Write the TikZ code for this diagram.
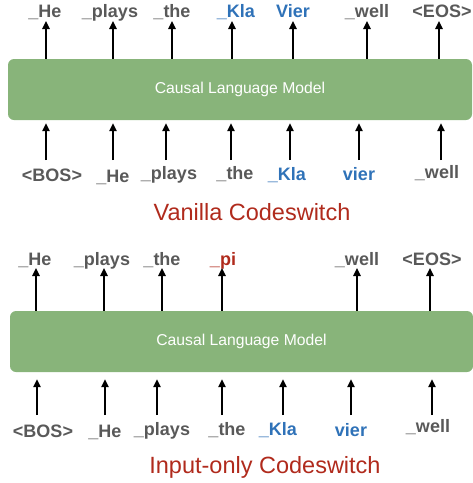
\documentclass[tikz,border=0pt]{standalone}
\usepackage{fontspec}
\setmainfont{Liberation Sans}
\usetikzlibrary{arrows.meta,positioning,calc}

\definecolor{tokgray}{HTML}{595959}
\definecolor{tokblue}{HTML}{2F72B8}
\definecolor{tokred}{HTML}{B02A1C}
\definecolor{lmgreen}{HTML}{88B47A}

\begin{document}
\begin{tikzpicture}[x=1pt, y=-1pt,
  tok/.style={font=\fontsize{18}{18}\selectfont\bfseries, text=tokgray, inner sep=0pt, anchor=base},
  lm/.style={fill=lmgreen, rounded corners=6pt, text=white, font=\fontsize{15.7}{15.7}\selectfont, minimum height=61pt},
  caption/.style={font=\fontsize{23.5}{23.5}\selectfont, text=tokred, inner sep=0pt, anchor=base},
  arr/.style={line width=1.5pt, -{Triangle[length=8pt,width=7.5pt]}}]
  \useasboundingbox (0,0) rectangle (473,483);

  % vanilla codeswitch
  \node[lm, minimum width=464pt] (vlm) at (240,89.5) {Causal Language Model};
  \foreach \n/\ax/\lx/\txt/\col in {1/46/45/\_He/tokgray, 2/113/110/\_plays/tokgray,
      3/172/172/\_the/tokgray, 4/232/236/\_Kla/tokblue, 5/293/293/Vier/tokblue,
      6/367/367/\_well/tokgray, 7/439/442/<EOS>/tokgray}{
    \node[tok, text=\col] (vo\n) at (\lx,17) {\txt};
    \coordinate (vox\n) at (\ax,17);
    \draw[arr, shorten >=4pt] (vox\n |- vlm.north) -- (vox\n |- vo\n.base);
  }
  \foreach \n/\ax/\lx/\ly/\txt/\col in {1/46/52/181/<BOS>/tokgray, 2/113/113/182/\_He/tokgray,
      3/166/169/179/\_plays/tokgray, 4/231/235/179/\_the/tokgray, 5/290/287/180/\_Kla/tokblue,
      6/359/359/180/vier/tokblue, 7/441/437/178/\_well/tokgray}{
    \node[tok, text=\col] (vi\n) at (\lx,\ly) {\txt};
    \coordinate (vix\n) at (\ax,160);
    \draw[arr, shorten >=3pt] (vix\n) -- (vix\n |- vlm.south);
  }
  \node[caption] (vcap) at (252,220) {Vanilla Codeswitch};

  % input-only codeswitch
  \node[lm, minimum width=463pt] (iolm) at (241.5,341.5) {Causal Language Model};
  \foreach \n/\ax/\lx/\txt/\col in {1/36/35/\_He/tokgray, 2/104/102/\_plays/tokgray,
      3/162/162/\_the/tokgray, 4/222/223/\_pi/tokred,
      5/357/357/\_well/tokgray, 6/430/432/<EOS>/tokgray}{
    \node[tok, text=\col] (ioo\n) at (\lx,265) {\txt};
    \coordinate (iox\n) at (\ax,265);
    \draw[arr, shorten >=3pt] (iox\n |- iolm.north) -- (iox\n |- ioo\n.base);
  }
  \foreach \n/\ax/\lx/\ly/\txt/\col in {1/37/43/437/<BOS>/tokgray, 2/105/105/437/\_He/tokgray,
      3/157/162/435/\_plays/tokgray, 4/222/227/435/\_the/tokgray, 5/283/278/435/\_Kla/tokblue,
      6/351/351/436/vier/tokblue, 7/432/428/432/\_well/tokgray}{
    \node[tok, text=\col] (ioi\n) at (\lx,\ly) {\txt};
    \coordinate (ioix\n) at (\ax,415);
    \draw[arr, shorten >=7pt] (ioix\n) -- (ioix\n |- iolm.south);
  }
  \node[caption] (iocap) at (265,473) {Input-only Codeswitch};
\end{tikzpicture}
\end{document}
